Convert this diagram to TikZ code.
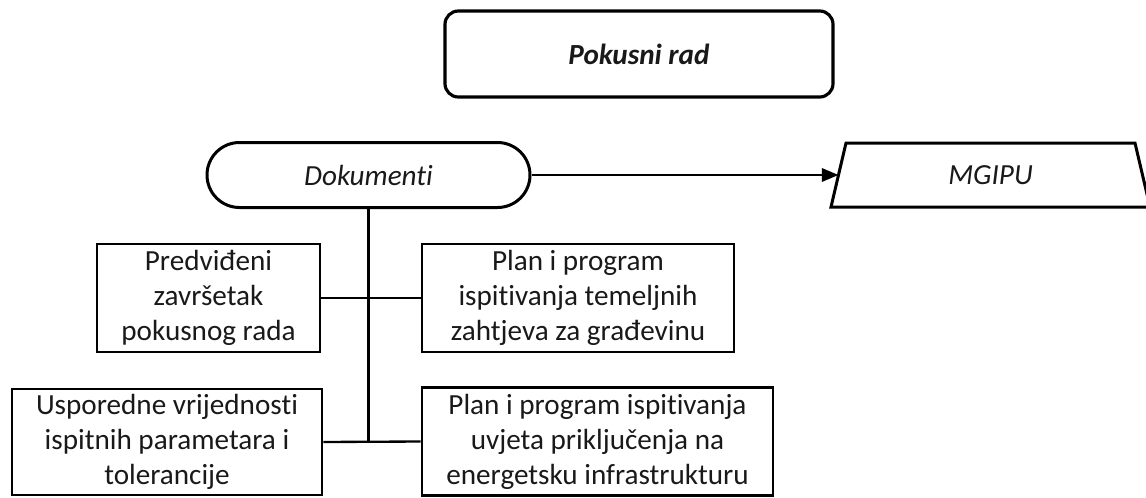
\documentclass[tikz,border=0pt]{standalone}
\usepackage{fontspec}
\setmainfont{Carlito}[Ligatures={NoCommon,NoContextual,NoRare},Contextuals={NoAlternate}]
\usetikzlibrary{shapes.misc,arrows.meta}
\newcommand{\diafont}{\fontsize{17.5}{21}\selectfont}

\begin{document}
\begin{tikzpicture}[x=0.6pt,y=-0.6pt,
  every node/.style={font=\diafont, align=center, inner sep=0pt, text=black!90},
  docbox/.style={draw, line width=1.7pt, minimum width=#1, minimum height=64.8pt},
  link/.style={line width=1.4pt}]
\useasboundingbox (0,0) rectangle (1146,497);
%\draw[help lines] (0,0) grid[step=50] (1146,497);
\node[draw, line width=1.9pt, rounded corners=8pt, minimum width=232.8pt,
  minimum height=51.6pt, font=\diafont\bfseries\itshape] (pokusni) at (639,54) {Pokusni rad};
\node[draw, rounded rectangle, line width=1.8pt, minimum width=193.8pt,
  minimum height=39pt, font=\diafont\itshape] (dok) at (368.5,175) {Dokumenti};
% MGIPU (trapezoid, cut by the right edge)
\draw[line width=1.8pt] (846,143) -- (1135,143) -- (1150,207) -- (831,207) -- cycle;
\node[font=\diafont\itshape] (mgipu) at (990.5,175) {MGIPU};
\coordinate (mgipuw) at (838.5,175);
\draw[link, -{Triangle[length=10pt,width=8pt]}] (dok.east) -- (mgipuw);

\node[docbox=133.8pt] (zavrsetak) at (208.5,298) {Predviđeni\\završetak\\pokusnog rada};
\node[docbox=187.2pt] (temeljni) at (578,298) {Plan i program\\ispitivanja temeljnih\\zahtjeva za građevinu};
\node[docbox=186pt, minimum height=63.6pt] (tolerancije) at (167,442) {Usporedne vrijednosti\\ispitnih parametara i\\tolerancije};
\node[docbox=210.6pt] (prikljucak) at (597.5,441.5) {Plan i program ispitivanja\\uvjeta priključenja na\\energetsku infrastrukturu};

\coordinate (spoj) at (dok.south |- tolerancije.east);
\draw[link] (dok.south) -- (spoj);
\draw[link] (zavrsetak.east) -- (temeljni.west);
\draw[link] (tolerancije.east) -- (prikljucak.west);
\end{tikzpicture}
\end{document}
